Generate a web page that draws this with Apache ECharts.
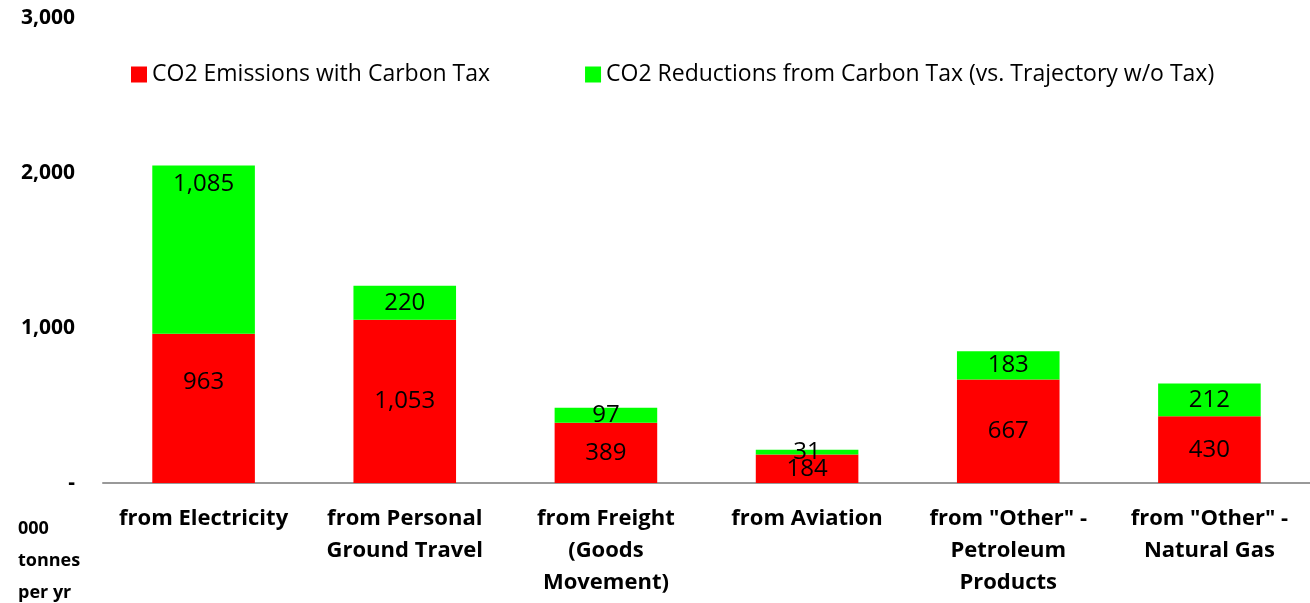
<!DOCTYPE html>
<html><head><meta charset="utf-8">
<script src="https://cdn.jsdelivr.net/npm/echarts@6/dist/echarts.min.js"></script>
<style>html,body{margin:0;padding:0;background:#fff}#c{width:1310px;height:603px}</style>
</head><body><div id="c"></div>
<script>
const categories = ['from Electricity', 'from Personal\nGround Travel', 'from Freight\n(Goods\nMovement)', 'from Aviation', 'from "Other" -\nPetroleum\nProducts', 'from "Other" -\nNatural Gas'];
const emissions = [963, 1053, 389, 184, 667, 430];
const reductions = [1085, 220, 97, 31, 183, 212];
const seriesNames = ['CO2 Emissions with Carbon Tax', 'CO2 Reductions from Carbon Tax (vs. Trajectory w/o Tax)'];
const axisUnit = '000\ntonnes\nper yr';
const FONT = '"Open Sans", sans-serif';
const fmt = v => v === 0 ? '-' : v.toLocaleString('en-US');
const lbl = {show: true, position: 'inside', color: '#000', fontSize: 24, fontFamily: FONT, formatter: p => p.value.toLocaleString('en-US')};
// label placement tweaks (Excel-style manual positions) for the first category
const redData = emissions.map((v, i) => i === 0 ? {value: v, label: {offset: [0, -26]}} : v);
const greenData = reductions.map((v, i) => i === 0 ? {value: v, label: {position: 'insideTop', distance: 7}} : v);
const chart = echarts.init(document.getElementById('c'));
chart.setOption({
  animation: false,
  grid: {left: 103, right: 0, top: 18, bottom: 120, containLabel: false},
  legend: {
    top: 58, left: 126, itemWidth: 16, itemHeight: 16, itemGap: 95,
    textStyle: {fontSize: 23, fontFamily: FONT, color: '#000'},
    data: [{name: seriesNames[0], icon: 'rect'}, {name: seriesNames[1], icon: 'rect'}]
  },
  xAxis: {
    type: 'category', data: categories,
    axisLine: {lineStyle: {color: '#999', width: 2}},
    axisTick: {show: false},
    axisLabel: {interval: 0, margin: 20, fontSize: 22, fontWeight: 'bold', fontFamily: FONT, color: '#000', lineHeight: 32}
  },
  yAxis: {
    type: 'value', min: 0, max: 3000, interval: 1000,
    splitLine: {show: false}, axisLine: {show: false}, axisTick: {show: false},
    axisLabel: {margin: 28, fontSize: 21, fontWeight: 'bold', fontFamily: FONT, color: '#000', formatter: fmt}
  },
  graphic: [{type: 'text', left: 18, top: 513, style: {text: axisUnit, fontSize: 18, fontWeight: 'bold', fontFamily: FONT, fill: '#000', lineHeight: 32}}],
  series: [
    {name: seriesNames[0], type: 'bar', stack: 'a', data: redData, barWidth: '51%', itemStyle: {color: '#ff0000'}, label: lbl},
    {name: seriesNames[1], type: 'bar', stack: 'a', data: greenData, barWidth: '51%', itemStyle: {color: '#00ff00'}, label: lbl}
  ]
});
</script></body></html>
